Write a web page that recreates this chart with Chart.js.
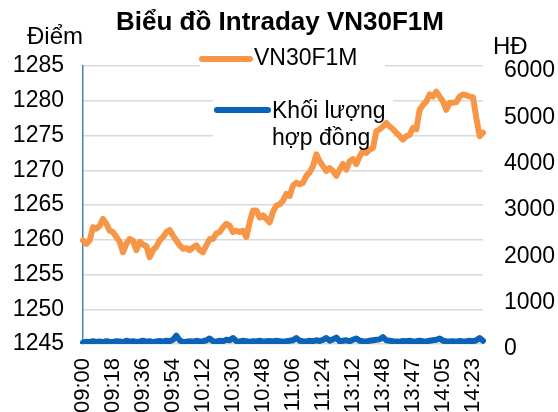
<!DOCTYPE html>
<html>
<head>
<meta charset="utf-8">
<script src="https://cdn.jsdelivr.net/npm/chart.js@4"></script>
<style>
  html, body { margin: 0; padding: 0; background: #fff; }
  #wrap { width: 558px; height: 412px; }
</style>
</head>
<body>
<div id="wrap"><canvas id="chart" width="558" height="412"></canvas></div>
<script>
// tick labels shown every 9 points on the x axis
const tickLabels = ["09:00", "09:18", "09:36", "09:54", "10:12", "10:30", "10:48",
    "11:06", "11:24", "13:12", "13:48", "13:47", "14:05", "14:23"];

// VN30F1M price (left axis)
const priceValues = [
    1259.9, 1259.4, 1259.9, 1261.8, 1261.6, 1262.0, 1263.0, 1262.3, 1261.3, 1261.1,
    1260.4, 1259.7, 1258.2, 1259.4, 1260.1, 1259.9, 1258.5, 1259.7, 1259.3, 1259.1,
    1257.5, 1258.5, 1259.0, 1259.9, 1260.4, 1261.1, 1261.4, 1260.6, 1259.9, 1259.2,
    1258.7, 1258.8, 1258.5, 1258.9, 1259.2, 1258.5, 1258.2, 1259.2, 1260.1, 1260.1,
    1260.9, 1261.1, 1261.8, 1262.3, 1262.0, 1261.1, 1261.3, 1261.1, 1261.3, 1260.4,
    1262.5, 1264.2, 1264.2, 1263.2, 1263.5, 1263.0, 1262.5, 1264.0, 1264.9, 1265.1,
    1265.6, 1266.6, 1266.3, 1267.8, 1268.2, 1268.0, 1268.2, 1269.2, 1269.7, 1270.6,
    1272.3, 1271.3, 1270.6, 1269.9, 1270.3, 1269.9, 1269.2, 1270.1, 1270.9, 1270.1,
    1271.3, 1271.6, 1270.9, 1272.0, 1272.8, 1272.5, 1273.0, 1273.2, 1275.6, 1275.9,
    1276.3, 1276.8, 1276.3, 1275.9, 1275.4, 1274.9, 1274.4, 1274.9, 1275.1, 1276.1,
    1275.9, 1278.7, 1279.4, 1279.9, 1280.9, 1280.6, 1281.3, 1280.6, 1279.9, 1278.7,
    1279.7, 1279.7, 1279.8, 1280.6, 1280.9, 1280.8, 1280.6, 1280.5, 1277.5, 1274.9,
    1275.4
];

// contract volume (right axis)
const volumeValues = [
    30, 50, 40, 60, 45, 55, 40, 60, 50, 45,
    60, 55, 40, 70, 50, 60, 45, 55, 70, 50,
    60, 40, 55, 65, 50, 70, 60, 90, 180, 80,
    40, 50, 60, 45, 70, 55, 60, 80, 120, 60,
    50, 70, 60, 90, 80, 130, 60, 50, 70, 60,
    45, 60, 55, 70, 50, 60, 65, 55, 70, 60,
    50, 60, 70, 80, 130, 70, 60, 55, 70, 60,
    80, 65, 90, 130, 70, 100, 140, 60, 70, 80,
    60, 90, 120, 70, 60, 55, 70, 80, 90, 100,
    150, 80, 70, 60, 55, 50, 65, 60, 70, 55,
    60, 70, 60, 55, 70, 80, 90, 120, 70, 60,
    55, 60, 50, 65, 55, 60, 70, 60, 80, 130,
    70
];

const seriesNames = ["VN30F1M", "Khối lượng", "hợp đồng"];
const chartTitle = "Biểu đồ Intraday VN30F1M";

const ORANGE = "#F79646";
const BLUE = "#0B63B8";
const FONT = "'Liberation Sans', Arial, sans-serif";

const pointLabels = priceValues.map((v, i) => i);

// titles and the legend drawn on top of the plot, like the original
const annotPlugin = {
    id: "annot",
    beforeDatasetsDraw(chart) {
        const ctx = chart.ctx;
        ctx.save();
        ctx.fillStyle = "#fff";
        ctx.fillRect(200, 46, 185, 26);
        ctx.fillRect(213, 94, 180, 60);
        ctx.restore();
    },
    afterDraw(chart) {
        const ctx = chart.ctx;
        ctx.save();
        ctx.fillStyle = "#000";
        ctx.textBaseline = "middle";

        ctx.font = "bold 26px " + FONT;
        ctx.textAlign = "center";
        ctx.fillText(chartTitle, 280, 23);

        ctx.font = "24px " + FONT;
        ctx.textAlign = "left";
        ctx.fillText("Điểm", 27, 37);
        ctx.fillText("HĐ", 493, 47);

        // legend
        ctx.font = "23px " + FONT;
        ctx.lineCap = "round";
        ctx.lineWidth = 6;
        ctx.strokeStyle = ORANGE;
        ctx.beginPath();
        ctx.moveTo(202, 59);
        ctx.lineTo(250, 59);
        ctx.stroke();
        ctx.fillText(seriesNames[0], 254, 59);

        ctx.strokeStyle = BLUE;
        ctx.beginPath();
        ctx.moveTo(217, 110);
        ctx.lineTo(268, 110);
        ctx.stroke();
        ctx.fillText(seriesNames[1], 272, 112);
        ctx.fillText(seriesNames[2], 272, 139);
        ctx.restore();
    }
};

const ctx = document.getElementById("chart").getContext("2d");
new Chart(ctx, {
    type: "line",
    data: {
        labels: pointLabels,
        datasets: [
            {
                label: seriesNames[1] + " " + seriesNames[2],
                data: volumeValues,
                yAxisID: "y1",
                borderColor: BLUE,
                borderWidth: 6,
                borderCapStyle: "round",
                borderJoinStyle: "round",
                pointRadius: 0,
                tension: 0
            },
            {
                label: seriesNames[0],
                data: priceValues,
                yAxisID: "y",
                borderColor: ORANGE,
                borderWidth: 6,
                borderCapStyle: "round",
                borderJoinStyle: "round",
                pointRadius: 0,
                tension: 0
            }
        ]
    },
    options: {
        responsive: false,
        animation: false,
        layout: { padding: { top: 66, left: 0, right: 0, bottom: 0 } },
        plugins: {
            legend: { display: false },
            title: { display: false },
            tooltip: { enabled: false }
        },
        scales: {
            x: {
                type: "category",
                offset: false,
                grid: { display: false },
                border: { display: false },
                afterFit: s => { s.height = 68; },
                ticks: {
                    autoSkip: false,
                    minRotation: 90,
                    maxRotation: 90,
                    padding: 6,
                    color: "#000",
                    font: { family: FONT, size: 22 },
                    callback: (v, i) => (i % 9 === 0 ? tickLabels[i / 9] : "")
                }
            },
            y: {
                position: "left",
                min: 1245,
                max: 1285,
                afterFit: s => { s.width = 83; },
                grid: { color: "#D9D9D9", lineWidth: 1.5, drawTicks: false },
                border: { color: "#4A7EBB", width: 1.5 },
                ticks: {
                    stepSize: 5,
                    padding: 19,
                    color: "#000",
                    font: { family: FONT, size: 23 },
                    callback: v => String(v)
                }
            },
            y1: {
                position: "right",
                min: 0,
                max: 6000,
                afterFit: s => { s.width = 75; },
                grid: { display: false, drawTicks: false },
                border: { display: false },
                ticks: {
                    stepSize: 1000,
                    padding: 21,
                    labelOffset: 5,
                    color: "#000",
                    font: { family: FONT, size: 23 },
                    callback: v => String(v)
                }
            }
        }
    },
    plugins: [annotPlugin]
});
</script>
</body>
</html>
